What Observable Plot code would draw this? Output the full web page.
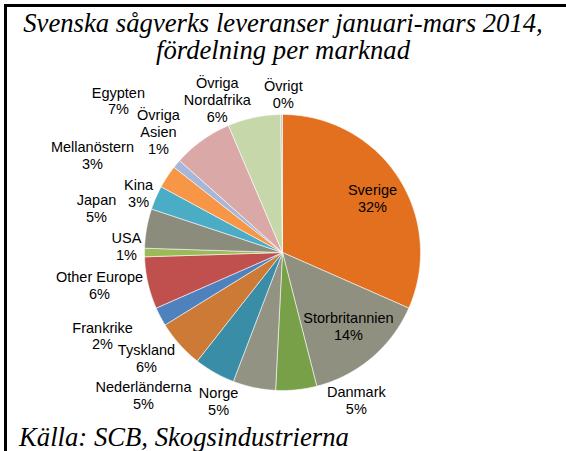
<!DOCTYPE html>
<html>
<head>
<meta charset="utf-8">
<script src="https://cdn.jsdelivr.net/npm/d3@7"></script>
<script src="https://cdn.jsdelivr.net/npm/@observablehq/plot@0.6"></script>
<style>
  body { margin: 0; background: #fff; }
  #wrap { position: relative; width: 566px; height: 451px; overflow: hidden; background: #fff; }
  #frame { position: absolute; left: 4px; top: 4px; width: 600px; height: 500px;
           border-left: 3px solid #000; border-top: 3px solid #000; box-sizing: border-box; }
  #chart { position: absolute; left: 0; top: 70px; }
  .t { position: absolute; left: 0; width: 566px; text-align: center; white-space: nowrap;
       font-family: 'Liberation Serif', 'Times New Roman', serif; font-style: italic;
       font-size: 26.7px; line-height: 27px; height: 27px; color: #000; }
</style>
</head>
<body>
<div id="wrap">
  <div id="frame"></div>
  <div class="t" style="top:9.5px;">Svenska sågverks leveranser januari-mars 2014,</div>
  <div class="t" style="top:37px;">fördelning per marknad</div>
  <div id="chart"></div>
  <div class="t" style="left:19px;width:auto;text-align:left;top:423.5px;">Källa: SCB, Skogsindustrierna</div>
</div>
<script>
// ---- data (clockwise from 12 o'clock) ----
const markets = ["Sverige", "Storbritannien", "Danmark", "Norge", "Nederländerna", "Tyskland",
  "Frankrike", "Other Europe", "USA", "Japan", "Kina", "Mellanöstern", "Övriga Asien",
  "Egypten", "Övriga Nordafrika", "Övrigt"];
const shares = [31.6, 14.4, 4.8, 5.0, 4.8, 5.6, 2.2, 6.1, 1.0, 4.6, 2.8, 2.7, 1.0, 7.0, 6.2, 0.2];

// ---- styling ----
const sliceColors = ["#e2701f", "#909080", "#78a048", "#939383", "#3a8da6", "#cc7a35",
  "#4f81bd", "#c0504d", "#9bbb59", "#8c8c7c", "#4bacc6", "#f79646", "#a6b7da",
  "#d9a8a7", "#c6d7aa", "#bfbfbf"];
const wrapped = new Set(["Övriga Asien", "Övriga Nordafrika"]);
// label nudges in pixels from the slice's mid-angle point on the rim (Excel "best fit" placement)
const labelNudges = [[-25.6, 21.4], [-23.3, -31.3], [60, 10.7], [-35.5, 14], [-71, 22.9],
  [-33.1, 14], [-57.8, 18.9], [-48.4, 2.4], [-18, -6], [-50.1, -19.8], [-17.3, -4.2],
  [-74.7, -21.2], [-18.3, -32.3], [-83.7, -39.8], [-36.8, -18.1], [1.7, -20]];

const cx = 282, cy = 182, R = 138; // pie centre within svg, radius in px
const total = d3.sum(shares);

// build slice polygons in unit-circle coordinates (angle clockwise from top)
const polys = [];
const labels = [];
let cum = 0;
markets.forEach((m, i) => {
  const a0 = cum / total * 2 * Math.PI;
  cum += shares[i];
  const a1 = cum / total * 2 * Math.PI;
  const n = Math.max(2, Math.ceil((a1 - a0) / (Math.PI / 360)));
  polys.push({market: m, x: 0, y: 0});
  for (let k = 0; k <= n; ++k) {
    const a = a0 + (a1 - a0) * k / n;
    polys.push({market: m, x: Math.sin(a), y: Math.cos(a)});
  }
  polys.push({market: m, x: 0, y: 0});
  const am = (a0 + a1) / 2;
  const [nx, ny] = labelNudges[i];
  const name = wrapped.has(m) ? m.replace(" ", "\n") : m;
  labels.push({
    market: m,
    x: Math.sin(am) + nx / R,
    y: Math.cos(am) - ny / R,
    text: `${name}\n${Math.round(shares[i] / total * 100)}%`
  });
});

const chart = Plot.plot({
  width: 566,
  height: 350,
  margin: 0,
  style: {fontFamily: "Arial, 'Liberation Sans', sans-serif", fontSize: "14.5px", background: "transparent", color: "#000"},
  x: {domain: [-1, 1], range: [cx - R, cx + R], axis: null},
  y: {domain: [-1, 1], range: [cy + R, cy - R], axis: null},
  color: {domain: markets, range: sliceColors, type: "ordinal"},
  marks: [
    Plot.line(polys, {x: "x", y: "y", z: "market", fill: "market", stroke: "#ffffff",
      strokeWidth: 0.7, strokeOpacity: 0.8, curve: "linear"}),
    Plot.text(labels, {x: "x", y: "y", text: "text", fill: "#000", fontSize: 14.5,
      lineHeight: 1.17, textAnchor: "middle"})
  ]
});
document.getElementById("chart").appendChild(chart);
</script>
</body>
</html>
